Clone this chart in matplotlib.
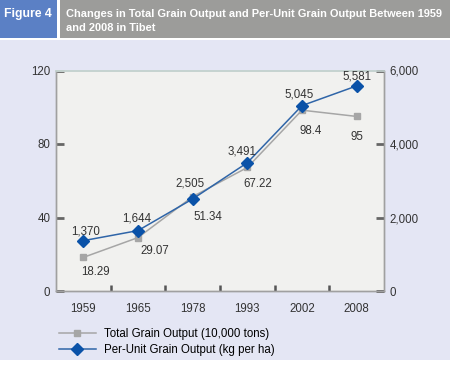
import matplotlib
matplotlib.use('Agg')
from matplotlib import pyplot as plt
from matplotlib.patches import Rectangle

plt.rcParams['font.family'] = ['Liberation Sans', 'DejaVu Sans']

years = ['1959', '1965', '1978', '1993', '2002', '2008']
total_grain = [18.29, 29.07, 51.34, 67.22, 98.4, 95]
per_unit = [1370, 1644, 2505, 3491, 5045, 5581]
total_labels = ['18.29', '29.07', '51.34', '67.22', '98.4', '95']
per_unit_labels = ['1,370', '1,644', '2,505', '3,491', '5,045', '5,581']
left_ticks = [0, 40, 80, 120]
right_ticks = [0, 2000, 4000, 6000]
right_tick_labels = ['0', '2,000', '4,000', '6,000']

W, H = 450, 366
fig = plt.figure(figsize=(4.5, 3.66), dpi=100)
fig.patch.set_facecolor('white')

# background panel and header
fig.patches.append(Rectangle((0, 6 / H), 1, (H - 40 - 6) / H, transform=fig.transFigure,
                             facecolor='#e4e6f4', edgecolor='none', zorder=-5))
fig.patches.append(Rectangle((0, (H - 38) / H), 57 / W, 38 / H, transform=fig.transFigure,
                             facecolor='#5b80c5', edgecolor='none', zorder=-5))
fig.patches.append(Rectangle((60 / W, (H - 38) / H), (W - 60) / W, 38 / H, transform=fig.transFigure,
                             facecolor='#9c9c9a', edgecolor='none', zorder=-5))
fig.text(28 / W, 1 - 14 / H, 'Figure 4', color='white', fontsize=8.8, fontweight='bold',
         ha='center', va='center')
fig.text(66 / W, 1 - 21 / H,
         'Changes in Total Grain Output and Per-Unit Grain Output Between 1959\nand 2008 in Tibet',
         color='white', fontsize=7.9, fontweight='bold', ha='left', va='center', linespacing=1.6)

# plot area
ax = fig.add_axes([56 / W, (H - 291) / H, (384 - 56) / W, (291 - 70.5) / H], zorder=2)
ax.set_facecolor('#f1f1ef')
x = list(range(len(years)))
ax2 = ax.twinx()
ax2.set_zorder(3)

ax.plot(x, total_grain, color='#a6a6a6', lw=1.1, marker='s', ms=4.8, mec='#a6a6a6',
        label='Total Grain Output (10,000 tons)', zorder=3)
ax2.plot(x, per_unit, color='#2f65a8', lw=1.1, marker='D', ms=6, mfc='#0a52a8', mec='#0a52a8',
         label='Per-Unit Grain Output (kg per ha)', zorder=3)

gray_offsets = [(12, -15), (17, -13), (15, -20), (10, -17), (9, -21), (0, -21)]
blue_offsets = [(2, 9), (-1, 12), (-3, 15), (-5, 11), (-3, 11), (0, 9)]
for i in x:
    ax2.annotate(total_labels[i], (i, total_grain[i] * 50), xytext=gray_offsets[i],
                 textcoords='offset pixels', ha='center', va='center', fontsize=8.3, color='#333333')
    ax2.annotate(per_unit_labels[i], (i, per_unit[i]), xytext=blue_offsets[i],
                 textcoords='offset pixels', ha='center', va='center', fontsize=8.3, color='#333333')

ax.set_xlim(-0.5, 5.5)
ax.set_ylim(0, 120)
ax2.set_ylim(0, 6000)
ax.set_xticks(x)
ax.set_xticklabels(years)
ax.set_xticks([0.5, 1.5, 2.5, 3.5, 4.5], minor=True)
ax.tick_params(axis='x', which='major', length=0, pad=9, labelsize=8.3, labelcolor='#333333')
ax.tick_params(axis='x', which='minor', direction='in', length=4, width=1.8, color='#555555')
ax.set_yticks(left_ticks)
ax.tick_params(axis='y', direction='in', length=6, width=2, color='#666666', pad=4,
               labelsize=8.3, labelcolor='#333333')
ax2.set_yticks(right_ticks)
ax2.set_yticklabels(right_tick_labels)
ax2.tick_params(axis='y', direction='in', length=6, width=2, color='#666666', pad=4,
                labelsize=8.3, labelcolor='#333333')
for a in (ax, ax2):
    for s in ['left', 'bottom', 'right']:
        a.spines[s].set_color('#a0a0a0')
        a.spines[s].set_linewidth(1)
    a.spines['top'].set_color('#c5d3d0')
    a.spines['top'].set_linewidth(1.2)

h1, l1 = ax.get_legend_handles_labels()
h2, l2 = ax2.get_legend_handles_labels()
fig.legend(h1 + h2, l1 + l2, loc='upper left', bbox_to_anchor=(54 / W, 1 - 323 / H),
           frameon=False, fontsize=8.3, handlelength=3.2, handletextpad=0.7,
           labelspacing=0.4, borderaxespad=0)

fig.savefig('out.png', dpi=100, facecolor=fig.get_facecolor())
